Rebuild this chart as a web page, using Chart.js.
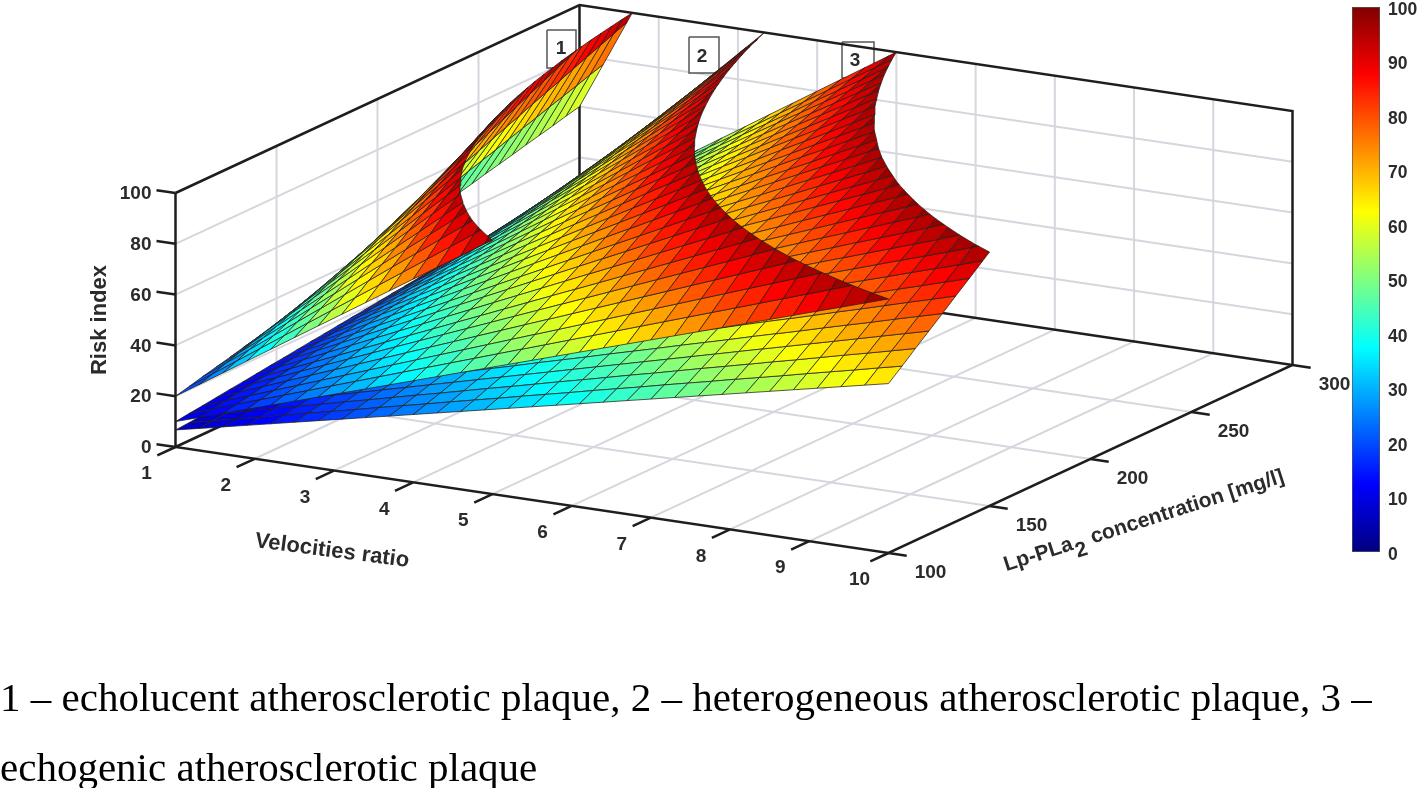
<!DOCTYPE html>
<html>
<head>
<meta charset="utf-8">
<title>Risk index surfaces</title>
<script src="https://cdn.jsdelivr.net/npm/chart.js@4"></script>
<style>
  html, body { margin: 0; background: #fff; overflow: hidden; }
  canvas { position: absolute; }
  #surface-chart { left: 0; top: 0; }
  #colorbar-chart { left: 1340px; top: 0; }
  .caption { position: absolute; left: 0; margin: 0; white-space: nowrap; font: 41px "Liberation Serif", serif; color: #000; }
</style>
</head>
<body>
<canvas id="surface-chart" width="1418" height="788"></canvas>
<canvas id="colorbar-chart" width="78" height="570"></canvas>
<p class="caption" style="top:673px">1 – echolucent atherosclerotic plaque, 2 – heterogeneous atherosclerotic plaque, 3 –</p>
<p class="caption" style="top:743px">echogenic atherosclerotic plaque</p>
<script>
const velocityTicks = [1, 2, 3, 4, 5, 6, 7, 8, 9, 10];
const concentrationTicks = [100, 150, 200, 250, 300];
const riskTicks = [0, 20, 40, 60, 80, 100];
const colorbarTicks = [0, 10, 20, 30, 40, 50, 60, 70, 80, 90, 100];

const velocityGrid = [1, 1.3, 1.6, 1.9, 2.2, 2.5, 2.8, 3.1, 3.4, 3.7, 4, 4.3, 4.6, 4.9, 5.2, 5.5, 5.8, 6.1, 6.4, 6.7, 7, 7.3, 7.6, 7.9, 8.2, 8.5, 8.8, 9.1, 9.4, 9.7, 10];
const concentrationGrid = [100, 106.7, 113.3, 120, 126.7, 133.3, 140, 146.7, 153.3, 160, 166.7, 173.3, 180, 186.7, 193.3, 200, 206.7, 213.3, 220, 226.7, 233.3, 240, 246.7, 253.3, 260, 266.7, 273.3, 280, 286.7, 293.3, 300];

// one row per concentration, one column per velocity. rows stop just past the z limit
const riskPlaque1 = [
  [20,26,32,38,44,50,56,62,68,74,80,86,92,98,104],
  [21.3,27.7,34.1,40.5,46.9,53.3,59.7,66.1,72.5,78.9,85.3,91.7,98.1,104.5,110.9],
  [22.7,29.5,36.3,43.1,49.9,56.7,63.5,70.3,77.1,83.9,90.7,97.5,104.3,111.1],
  [24,31.2,38.4,45.6,52.8,60,67.2,74.4,81.6,88.8,96,103.2,110.4],
  [25.3,32.9,40.5,48.1,55.7,63.3,70.9,78.5,86.1,93.7,101.3,108.9],
  [26.7,34.7,42.7,50.7,58.7,66.7,74.7,82.7,90.7,98.7,106.7],
  [28,36.4,44.8,53.2,61.6,70,78.4,86.8,95.2,103.6,112],
  [29.3,38.1,46.9,55.7,64.5,73.3,82.1,90.9,99.7,108.5],
  [30.7,39.9,49.1,58.3,67.5,76.7,85.9,95.1,104.3,113.5],
  [32,41.6,51.2,60.8,70.4,80,89.6,99.2,108.8],
  [33.3,43.3,53.3,63.3,73.3,83.3,93.3,103.3,113.3],
  [34.7,45.1,55.5,65.9,76.3,86.7,97.1,107.5],
  [36,46.8,57.6,68.4,79.2,90,100.8,111.6],
  [37.3,48.5,59.7,70.9,82.1,93.3,104.5],
  [38.7,50.3,61.9,73.5,85.1,96.7,108.3],
  [40,52,64,76,88,100,112],
  [41.3,53.7,66.1,78.5,90.9,103.3],
  [42.7,55.5,68.3,81.1,93.9,106.7],
  [44,57.2,70.4,83.6,96.8,110],
  [45.3,58.9,72.5,86.1,99.7,113.3],
  [46.7,60.7,74.7,88.7,102.7,116.7],
  [48,62.4,76.8,91.2,105.6],
  [49.3,64.1,78.9,93.7,108.5],
  [50.7,65.9,81.1,96.3,111.5],
  [52,67.6,83.2,98.8,114.4],
  [53.3,69.3,85.3,101.3,117.3],
  [54.7,71.1,87.5,103.9],
  [56,72.8,89.6,106.4],
  [57.3,74.5,91.7,108.9],
  [58.7,76.3,93.9,111.5],
  [60,78,96,114]
];

const riskPlaque2 = [
  [10,13,16,19,22,25,28,31,34,37,40,43,46,49,52,55,58,61,64,67,70,73,76,79,82,85,88,91,94,97,100],
  [10.7,13.9,17.1,20.3,23.5,26.7,29.9,33.1,36.3,39.5,42.7,45.9,49.1,52.3,55.5,58.7,61.9,65.1,68.3,71.5,74.7,77.9,81.1,84.3,87.5,90.7,93.9,97.1,100.3,103.5,106.7],
  [11.3,14.7,18.1,21.5,24.9,28.3,31.7,35.1,38.5,41.9,45.3,48.7,52.1,55.5,58.9,62.3,65.7,69.1,72.5,75.9,79.3,82.7,86.1,89.5,92.9,96.3,99.7,103.1,106.5],
  [12,15.6,19.2,22.8,26.4,30,33.6,37.2,40.8,44.4,48,51.6,55.2,58.8,62.4,66,69.6,73.2,76.8,80.4,84,87.6,91.2,94.8,98.4,102,105.6,109.2],
  [12.7,16.5,20.3,24.1,27.9,31.7,35.5,39.3,43.1,46.9,50.7,54.5,58.3,62.1,65.9,69.7,73.5,77.3,81.1,84.9,88.7,92.5,96.3,100.1,103.9,107.7],
  [13.3,17.3,21.3,25.3,29.3,33.3,37.3,41.3,45.3,49.3,53.3,57.3,61.3,65.3,69.3,73.3,77.3,81.3,85.3,89.3,93.3,97.3,101.3,105.3],
  [14,18.2,22.4,26.6,30.8,35,39.2,43.4,47.6,51.8,56,60.2,64.4,68.6,72.8,77,81.2,85.4,89.6,93.8,98,102.2,106.4],
  [14.7,19.1,23.5,27.9,32.3,36.7,41.1,45.5,49.9,54.3,58.7,63.1,67.5,71.9,76.3,80.7,85.1,89.5,93.9,98.3,102.7,107.1],
  [15.3,19.9,24.5,29.1,33.7,38.3,42.9,47.5,52.1,56.7,61.3,65.9,70.5,75.1,79.7,84.3,88.9,93.5,98.1,102.7,107.3],
  [16,20.8,25.6,30.4,35.2,40,44.8,49.6,54.4,59.2,64,68.8,73.6,78.4,83.2,88,92.8,97.6,102.4,107.2],
  [16.7,21.7,26.7,31.7,36.7,41.7,46.7,51.7,56.7,61.7,66.7,71.7,76.7,81.7,86.7,91.7,96.7,101.7,106.7],
  [17.3,22.5,27.7,32.9,38.1,43.3,48.5,53.7,58.9,64.1,69.3,74.5,79.7,84.9,90.1,95.3,100.5,105.7],
  [18,23.4,28.8,34.2,39.6,45,50.4,55.8,61.2,66.6,72,77.4,82.8,88.2,93.6,99,104.4],
  [18.7,24.3,29.9,35.5,41.1,46.7,52.3,57.9,63.5,69.1,74.7,80.3,85.9,91.5,97.1,102.7,108.3],
  [19.3,25.1,30.9,36.7,42.5,48.3,54.1,59.9,65.7,71.5,77.3,83.1,88.9,94.7,100.5,106.3],
  [20,26,32,38,44,50,56,62,68,74,80,86,92,98,104],
  [20.7,26.9,33.1,39.3,45.5,51.7,57.9,64.1,70.3,76.5,82.7,88.9,95.1,101.3,107.5],
  [21.3,27.7,34.1,40.5,46.9,53.3,59.7,66.1,72.5,78.9,85.3,91.7,98.1,104.5],
  [22,28.6,35.2,41.8,48.4,55,61.6,68.2,74.8,81.4,88,94.6,101.2,107.8],
  [22.7,29.5,36.3,43.1,49.9,56.7,63.5,70.3,77.1,83.9,90.7,97.5,104.3],
  [23.3,30.3,37.3,44.3,51.3,58.3,65.3,72.3,79.3,86.3,93.3,100.3,107.3],
  [24,31.2,38.4,45.6,52.8,60,67.2,74.4,81.6,88.8,96,103.2],
  [24.7,32.1,39.5,46.9,54.3,61.7,69.1,76.5,83.9,91.3,98.7,106.1],
  [25.3,32.9,40.5,48.1,55.7,63.3,70.9,78.5,86.1,93.7,101.3,108.9],
  [26,33.8,41.6,49.4,57.2,65,72.8,80.6,88.4,96.2,104],
  [26.7,34.7,42.7,50.7,58.7,66.7,74.7,82.7,90.7,98.7,106.7],
  [27.3,35.5,43.7,51.9,60.1,68.3,76.5,84.7,92.9,101.1,109.3],
  [28,36.4,44.8,53.2,61.6,70,78.4,86.8,95.2,103.6],
  [28.7,37.3,45.9,54.5,63.1,71.7,80.3,88.9,97.5,106.1],
  [29.3,38.1,46.9,55.7,64.5,73.3,82.1,90.9,99.7,108.5],
  [30,39,48,57,66,75,84,93,102,111]
];

const riskPlaque3 = [
  [6.7,8.7,10.7,12.7,14.7,16.7,18.7,20.7,22.7,24.7,26.7,28.7,30.7,32.7,34.7,36.7,38.7,40.7,42.7,44.7,46.7,48.7,50.7,52.7,54.7,56.7,58.7,60.7,62.7,64.7,66.7],
  [7.1,9.2,11.4,13.5,15.6,17.8,19.9,22,24.2,26.3,28.4,30.6,32.7,34.8,37,39.1,41.2,43.4,45.5,47.6,49.8,51.9,54,56.2,58.3,60.4,62.6,64.7,66.8,69,71.1],
  [7.6,9.8,12.1,14.4,16.6,18.9,21.2,23.4,25.7,28,30.2,32.5,34.8,37,39.3,41.6,43.8,46.1,48.4,50.6,52.9,55.2,57.4,59.7,62,64.2,66.5,68.8,71,73.3,75.6],
  [8,10.4,12.8,15.2,17.6,20,22.4,24.8,27.2,29.6,32,34.4,36.8,39.2,41.6,44,46.4,48.8,51.2,53.6,56,58.4,60.8,63.2,65.6,68,70.4,72.8,75.2,77.6,80],
  [8.4,11,13.5,16,18.6,21.1,23.6,26.2,28.7,31.2,33.8,36.3,38.8,41.4,43.9,46.4,49,51.5,54,56.6,59.1,61.6,64.2,66.7,69.2,71.8,74.3,76.8,79.4,81.9,84.4],
  [8.9,11.6,14.2,16.9,19.6,22.2,24.9,27.6,30.2,32.9,35.6,38.2,40.9,43.6,46.2,48.9,51.6,54.2,56.9,59.6,62.2,64.9,67.6,70.2,72.9,75.6,78.2,80.9,83.6,86.2,88.9],
  [9.3,12.1,14.9,17.7,20.5,23.3,26.1,28.9,31.7,34.5,37.3,40.1,42.9,45.7,48.5,51.3,54.1,56.9,59.7,62.5,65.3,68.1,70.9,73.7,76.5,79.3,82.1,84.9,87.7,90.5,93.3],
  [9.8,12.7,15.6,18.6,21.5,24.4,27.4,30.3,33.2,36.2,39.1,42,45,47.9,50.8,53.8,56.7,59.6,62.6,65.5,68.4,71.4,74.3,77.2,80.2,83.1,86,89,91.9,94.8,97.8],
  [10.2,13.3,16.4,19.4,22.5,25.6,28.6,31.7,34.8,37.8,40.9,44,47,50.1,53.2,56.2,59.3,62.4,65.4,68.5,71.6,74.6,77.7,80.8,83.8,86.9,90,93,96.1,99.2,102.2],
  [10.7,13.9,17.1,20.3,23.5,26.7,29.9,33.1,36.3,39.5,42.7,45.9,49.1,52.3,55.5,58.7,61.9,65.1,68.3,71.5,74.7,77.9,81.1,84.3,87.5,90.7,93.9,97.1,100.3,103.5,106.7],
  [11.1,14.4,17.8,21.1,24.4,27.8,31.1,34.4,37.8,41.1,44.4,47.8,51.1,54.4,57.8,61.1,64.4,67.8,71.1,74.4,77.8,81.1,84.4,87.8,91.1,94.4,97.8,101.1,104.4],
  [11.6,15,18.5,22,25.4,28.9,32.4,35.8,39.3,42.8,46.2,49.7,53.2,56.6,60.1,63.6,67,70.5,74,77.4,80.9,84.4,87.8,91.3,94.8,98.2,101.7,105.2],
  [12,15.6,19.2,22.8,26.4,30,33.6,37.2,40.8,44.4,48,51.6,55.2,58.8,62.4,66,69.6,73.2,76.8,80.4,84,87.6,91.2,94.8,98.4,102,105.6],
  [12.4,16.2,19.9,23.6,27.4,31.1,34.8,38.6,42.3,46,49.8,53.5,57.2,61,64.7,68.4,72.2,75.9,79.6,83.4,87.1,90.8,94.6,98.3,102,105.8],
  [12.9,16.8,20.6,24.5,28.4,32.2,36.1,40,43.8,47.7,51.6,55.4,59.3,63.2,67,70.9,74.8,78.6,82.5,86.4,90.2,94.1,98,101.8,105.7],
  [13.3,17.3,21.3,25.3,29.3,33.3,37.3,41.3,45.3,49.3,53.3,57.3,61.3,65.3,69.3,73.3,77.3,81.3,85.3,89.3,93.3,97.3,101.3,105.3],
  [13.8,17.9,22,26.2,30.3,34.4,38.6,42.7,46.8,51,55.1,59.2,63.4,67.5,71.6,75.8,79.9,84,88.2,92.3,96.4,100.6,104.7],
  [14.2,18.5,22.8,27,31.3,35.6,39.8,44.1,48.4,52.6,56.9,61.2,65.4,69.7,74,78.2,82.5,86.8,91,95.3,99.6,103.8],
  [14.7,19.1,23.5,27.9,32.3,36.7,41.1,45.5,49.9,54.3,58.7,63.1,67.5,71.9,76.3,80.7,85.1,89.5,93.9,98.3,102.7,107.1],
  [15.1,19.6,24.2,28.7,33.2,37.8,42.3,46.8,51.4,55.9,60.4,65,69.5,74,78.6,83.1,87.6,92.2,96.7,101.2,105.8],
  [15.6,20.2,24.9,29.6,34.2,38.9,43.6,48.2,52.9,57.6,62.2,66.9,71.6,76.2,80.9,85.6,90.2,94.9,99.6,104.2],
  [16,20.8,25.6,30.4,35.2,40,44.8,49.6,54.4,59.2,64,68.8,73.6,78.4,83.2,88,92.8,97.6,102.4,107.2],
  [16.4,21.4,26.3,31.2,36.2,41.1,46,51,55.9,60.8,65.8,70.7,75.6,80.6,85.5,90.4,95.4,100.3,105.2],
  [16.9,22,27,32.1,37.2,42.2,47.3,52.4,57.4,62.5,67.6,72.6,77.7,82.8,87.8,92.9,98,103],
  [17.3,22.5,27.7,32.9,38.1,43.3,48.5,53.7,58.9,64.1,69.3,74.5,79.7,84.9,90.1,95.3,100.5,105.7],
  [17.8,23.1,28.4,33.8,39.1,44.4,49.8,55.1,60.4,65.8,71.1,76.4,81.8,87.1,92.4,97.8,103.1],
  [18.2,23.7,29.2,34.6,40.1,45.6,51,56.5,62,67.4,72.9,78.4,83.8,89.3,94.8,100.2,105.7],
  [18.7,24.3,29.9,35.5,41.1,46.7,52.3,57.9,63.5,69.1,74.7,80.3,85.9,91.5,97.1,102.7],
  [19.1,24.8,30.6,36.3,42,47.8,53.5,59.2,65,70.7,76.4,82.2,87.9,93.6,99.4,105.1],
  [19.6,25.4,31.3,37.2,43,48.9,54.8,60.6,66.5,72.4,78.2,84.1,90,95.8,101.7,107.6],
  [20,26,32,38,44,50,56,62,68,74,80,86,92,98,104]
];

const jetStops = [
  [0, 0, 0, 128], [0.125, 0, 0, 255], [0.375, 0, 255, 255],
  [0.625, 255, 255, 0], [0.875, 255, 0, 0], [1, 128, 0, 0]
];

const INK = '#1e1e1e';
const TEXT_INK = '#2b2b2b';
const GRID_INK = '#d6d6de';
const TICK_FONT = 'bold 19px "Liberation Sans", Arial, sans-serif';
const TITLE_FONT = 'bold 22px "Liberation Sans", Arial, sans-serif';
const CONC_TITLE_FONT = 'bold 21px "Liberation Sans", Arial, sans-serif';

function main() {
  drawSurfaceChart();
  drawColorbar();
}

// the axes box is nearly orthographic, so a plain affine map is enough
function project(v, c, z) {
  const a = (v - 1) / 9;
  const b = (c - 100) / 200;
  const h = z / 100;
  return { x: 175.5 + a * 713 + b * 404, y: 447 + a * 106 - b * 188 - h * 254 };
}

function jetColor(z) {
  const t = Math.min(1, Math.max(0, z / 100));
  let k = 1;
  while (k < jetStops.length - 1 && jetStops[k][0] < t) k++;
  const lo = jetStops[k - 1];
  const hi = jetStops[k];
  const f = (t - lo[0]) / (hi[0] - lo[0]);
  const ch = i => Math.round(lo[i] + (hi[i] - lo[i]) * f);
  return `rgb(${ch(1)},${ch(2)},${ch(3)})`;
}

// cut a cell against the z limit, as the plot does at 100
function clipToLimit(corners) {
  const out = [];
  corners.forEach((p, n) => {
    const q = corners[(n + 1) % corners.length];
    if (p.z <= 100) out.push(p);
    if ((p.z <= 100) !== (q.z <= 100)) {
      const f = (100 - p.z) / (q.z - p.z);
      out.push({ v: p.v + (q.v - p.v) * f, c: p.c + (q.c - p.c) * f, z: 100 });
    }
  });
  return out;
}

function surfaceCells(table) {
  const cells = [];
  for (let i = 0; i < concentrationGrid.length - 1; i++) {
    for (let j = 0; j < velocityGrid.length - 1; j++) {
      const base = table[i][j];
      if (base === undefined || base >= 100) continue;
      const corner = (r, k) => ({ v: velocityGrid[k], c: concentrationGrid[r], z: table[r][k] ?? 120 });
      const poly = clipToLimit([corner(i, j), corner(i, j + 1), corner(i + 1, j + 1), corner(i + 1, j)]);
      let depth = 0;
      poly.forEach(p => {
        depth += (p.v - 1) / 9 - 1.756 * (p.c - 100) / 200 + 1.685 * p.z / 100;
      });
      cells.push({ poly, depth: depth / poly.length, color: jetColor(base) });
    }
  }
  return cells;
}

function lineDataset(points, color, width) {
  return {
    data: points.map(p => project(p[0], p[1], p[2])),
    showLine: true,
    fill: false,
    borderColor: color,
    borderWidth: width,
    pointRadius: 0
  };
}

function gridDatasets() {
  const out = [];
  velocityTicks.slice(1, -1).forEach(v => {
    out.push(lineDataset([[v, 100, 0], [v, 300, 0], [v, 300, 100]], GRID_INK, 2));
  });
  concentrationTicks.slice(1, -1).forEach(c => {
    out.push(lineDataset([[10, c, 0], [1, c, 0], [1, c, 100]], GRID_INK, 2));
  });
  riskTicks.slice(1, -1).forEach(z => {
    out.push(lineDataset([[1, 100, z], [1, 300, z], [10, 300, z]], GRID_INK, 2));
  });
  return out;
}

function axisDatasets() {
  const out = [
    lineDataset([[1, 100, 100], [1, 100, 0], [10, 100, 0], [10, 300, 0], [10, 300, 100], [1, 300, 100], [1, 100, 100]], INK, 2.5),
    lineDataset([[1, 100, 0], [1, 300, 0], [10, 300, 0]], INK, 2.5),
    lineDataset([[1, 300, 0], [1, 300, 100]], INK, 2.5)
  ];
  velocityTicks.forEach(v => out.push(lineDataset([[v, 100, 0], [v, 91, 0]], INK, 2.5)));
  concentrationTicks.forEach(c => out.push(lineDataset([[10, c, 0], [10.23, c, 0]], INK, 2.5)));
  riskTicks.forEach(z => out.push(lineDataset([[1, 100, z], [0.76, 100, z]], INK, 2.5)));
  return out;
}

function noteBoxDatasets() {
  return [[547, 30, 576, 68], [689, 37, 719, 73], [842, 42, 874, 78]].map(b => ({
    data: [{ x: b[0], y: b[1] }, { x: b[2], y: b[1] }, { x: b[2], y: b[3] }, { x: b[0], y: b[3] }, { x: b[0], y: b[1] }],
    showLine: true,
    fill: 'shape',
    backgroundColor: '#fff',
    borderColor: '#555',
    borderWidth: 1.5,
    pointRadius: 0
  }));
}

const axisText = {
  id: 'axisText',
  afterDatasetsDraw(chart) {
    const ctx = chart.ctx;
    ctx.save();
    ctx.fillStyle = TEXT_INK;
    ctx.font = TICK_FONT;
    ctx.textAlign = 'center';
    ctx.textBaseline = 'middle';
    velocityTicks.forEach(v => {
      const p = project(v, 100, 0);
      ctx.fillText(String(v), p.x - 29, p.y + 27);
    });
    concentrationTicks.forEach(c => {
      const p = project(10, c, 0);
      ctx.fillText(String(c), p.x + 42, p.y + 20);
    });
    ctx.textAlign = 'right';
    riskTicks.forEach(z => {
      const p = project(1, 100, z);
      ctx.fillText(String(z), p.x - 24, p.y + 1);
    });

    ctx.textAlign = 'center';
    ctx.fillText('1', 561, 49);
    ctx.fillText('2', 702, 57);
    ctx.fillText('3', 855, 61);

    ctx.font = TITLE_FONT;
    rotatedLabel(ctx, 'Risk index', 100, 320, -Math.PI / 2);
    rotatedLabel(ctx, 'Velocities ratio', 332, 551, 7.4 * Math.PI / 180);

    // the subscript needs its own pieces
    ctx.font = CONC_TITLE_FONT;
    ctx.translate(1144, 521);
    ctx.rotate(-17.8 * Math.PI / 180);
    ctx.textAlign = 'left';
    const head = 'Lp-PLa';
    const tail = ' concentration [mg/l]';
    const headWidth = ctx.measureText(head).width;
    const tailWidth = ctx.measureText(tail).width;
    const start = -(headWidth + 14 + tailWidth) / 2;
    ctx.fillText(head, start, 0);
    ctx.fillText('2', start + headWidth + 1, 9);
    ctx.fillText(tail, start + headWidth + 14, 0);
    ctx.restore();
  }
};

function rotatedLabel(ctx, text, x, y, angle) {
  ctx.save();
  ctx.translate(x, y);
  ctx.rotate(angle);
  ctx.fillText(text, 0, 0);
  ctx.restore();
}

function drawSurfaceChart() {
  const cells = [riskPlaque1, riskPlaque2, riskPlaque3].flatMap(surfaceCells);
  // first dataset paints last, so nearest cells go first
  cells.sort((a, b) => b.depth - a.depth);

  const cellDatasets = cells.map(cell => {
    const data = cell.poly.map(p => project(p.v, p.c, p.z));
    data.push(data[0]);
    return {
      data,
      showLine: true,
      fill: 'shape',
      backgroundColor: cell.color,
      borderColor: 'rgba(35,30,25,0.75)',
      borderWidth: 1,
      pointRadius: 0
    };
  });

  new Chart(document.getElementById('surface-chart'), {
    type: 'scatter',
    data: { datasets: [...cellDatasets, ...axisDatasets(), ...noteBoxDatasets(), ...gridDatasets()] },
    options: {
      responsive: false,
      animation: false,
      events: [],
      layout: { padding: 0 },
      plugins: { legend: { display: false }, tooltip: { enabled: false } },
      scales: {
        x: { type: 'linear', min: 0, max: 1418, display: false },
        y: { type: 'linear', min: 0, max: 788, reverse: true, display: false }
      }
    },
    plugins: [axisText]
  });
}

function barGradient(context) {
  const { chart } = context;
  if (!chart.chartArea) return '#000';
  const y = chart.scales.y;
  const gradient = chart.ctx.createLinearGradient(0, y.getPixelForValue(0), 0, y.getPixelForValue(100));
  jetStops.forEach(s => gradient.addColorStop(s[0], `rgb(${s[1]},${s[2]},${s[3]})`));
  return gradient;
}

function drawColorbar() {
  new Chart(document.getElementById('colorbar-chart'), {
    type: 'bar',
    data: {
      labels: ['Risk index'],
      datasets: [{
        data: [[0, 100]],
        backgroundColor: barGradient,
        borderColor: '#555',
        borderWidth: 1,
        borderSkipped: false,
        barPercentage: 1,
        categoryPercentage: 1
      }]
    },
    options: {
      responsive: false,
      animation: false,
      events: [],
      layout: { padding: { left: 12, top: 7, bottom: 18, right: 0 } },
      plugins: { legend: { display: false }, tooltip: { enabled: false } },
      scales: {
        x: { display: false },
        y: {
          position: 'right',
          min: 0,
          max: 100,
          grid: { display: false },
          border: { display: false },
          afterBuildTicks(axis) {
            axis.ticks = colorbarTicks.map(value => ({ value }));
          },
          afterFit(axis) {
            axis.width = 38;
            axis.paddingTop = 0;
            axis.paddingBottom = 0;
          },
          ticks: {
            color: TEXT_INK,
            padding: 0,
            labelOffset: 3,
            font: { family: '"Liberation Sans", Arial, sans-serif', size: 17.5, weight: 'bold' }
          }
        }
      }
    }
  });
}

main();
</script>
</body>
</html>
